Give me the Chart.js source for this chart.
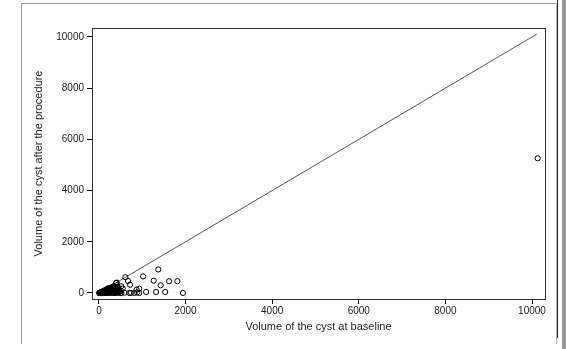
<!DOCTYPE html>
<html>
<head>
<meta charset="utf-8">
<script src="https://cdn.jsdelivr.net/npm/chart.js@4"></script>
<style>
  html, body { margin: 0; padding: 0; background: #fff; }
  #wrap { position: relative; width: 566px; height: 349px; overflow: hidden; }
  #frame { position: absolute; left: 21px; top: 3px; width: 534px; height: 340px;
           border-left: 1px solid #999; border-top: 1px solid #999; border-right: 1px solid #bbb; }
  #rdark { position: absolute; left: 557px; top: 0; width: 1px; height: 338px; background: #222; }
  #rbar { position: absolute; left: 562px; top: 0; width: 4px; height: 349px; background: #999; }
  canvas { position: absolute; left: 0; top: 0; }
</style>
</head>
<body>
<div id="wrap">
  <div id="frame"></div>
  <div id="rdark"></div>
  <div id="rbar"></div>
  <canvas id="grafico" width="566" height="349"></canvas>
</div>
<script>
// baseline volume vs volume after the procedure
const volBase = [5, 12, 18, 25, 30, 38, 45, 50, 55, 62, 70, 75, 80, 88, 95, 100, 105, 112, 118, 125,
  130, 138, 145, 150, 158, 165, 170, 178, 185, 190, 198, 205, 210, 218, 225, 232, 240, 248, 255, 262,
  270, 278, 285, 292, 300, 308, 315, 322, 330, 338, 345, 352, 360, 368, 375, 382, 390, 398, 405, 412,
  420, 428, 435, 442, 450, 458, 465, 480, 495, 510,
  20, 60, 90, 140, 200, 260, 320, 380, 440, 170, 230, 350,
  411, 397, 513, 550, 610, 670, 720, 520, 590, 700, 740, 820, 880, 930, 870, 930,
  1020, 1370, 1265, 1620, 1810, 1425, 1090, 1320, 1530, 1940, 10130];
const volDespues = [0, 3, 8, 2, 15, 0, 10, 25, 5, 30, 0, 18, 40, 8, 55, 0, 22, 60, 10, 35,
  80, 0, 45, 95, 15, 60, 110, 5, 30, 130, 70, 0, 150, 40, 90, 170, 10, 60, 120, 200,
  25, 80, 0, 150, 230, 45, 100, 15, 180, 260, 60, 0, 130, 30, 210, 90, 0, 160, 40, 300,
  110, 10, 240, 70, 180, 20, 130, 60, 0, 90,
  12, 40, 70, 110, 180, 140, 200, 250, 80, 50, 20, 120,
  406, 390, 262, 172, 615, 470, 320, 0, 10, 0, 5, 0, 20, 0, 130, 170,
  650, 920, 480, 460, 460, 300, 40, 40, 40, 0, 5260];
const linea = [0, 10110];
const xTicks = [0, 2000, 4000, 6000, 8000, 10000];
const yTicks = [0, 2000, 4000, 6000, 8000, 10000];

const puntos = volBase.map((v, i) => ({ x: v, y: volDespues[i] }));

const cajaPlugin = {
  id: 'caja',
  afterDatasetsDraw(chart) {
    const a = chart.chartArea, c = chart.ctx;
    c.save();
    c.strokeStyle = '#333';
    c.lineWidth = 1;
    c.strokeRect(a.left + 0.5, a.top + 0.5, a.right - a.left, a.bottom - a.top);
    c.restore();
  }
};

Chart.defaults.font.family = '"Liberation Sans", Arial, sans-serif';
Chart.defaults.font.size = 10;
Chart.defaults.color = '#222';

new Chart(document.getElementById('grafico').getContext('2d'), {
  type: 'scatter',
  data: {
    datasets: [{
      data: puntos,
      pointStyle: 'circle',
      pointRadius: 2.6,
      borderWidth: 1,
      borderColor: '#000',
      backgroundColor: 'rgba(0,0,0,0)'
    }, {
      type: 'line',
      data: linea.map(v => ({ x: v, y: v })),
      borderColor: '#555',
      borderWidth: 1,
      pointRadius: 0,
      fill: false
    }]
  },
  options: {
    responsive: false,
    animation: false,
    layout: { padding: { left: 28, top: 28, right: 21, bottom: 11 } },
    plugins: { legend: { display: false }, tooltip: { enabled: false } },
    scales: {
      x: {
        type: 'linear', min: -160, max: 10300,
        afterBuildTicks: s => { s.ticks = xTicks.map(v => ({ value: v })); },
        afterFit: s => { s.height = 39; },
        grid: { drawOnChartArea: false, tickLength: 5, color: '#000' },
        border: { color: '#000' },
        ticks: { padding: 1, maxRotation: 0, callback: v => v },
        title: { display: true, text: 'Volume of the cyst at baseline', font: { size: 11 } }
      },
      y: {
        type: 'linear', min: -235, max: 10350,
        afterBuildTicks: s => { s.ticks = yTicks.map(v => ({ value: v })); },
        afterFit: s => { s.width = 64; },
        grid: { drawOnChartArea: false, tickLength: 5, color: '#000' },
        border: { color: '#000' },
        ticks: { padding: 3, callback: v => v },
        title: { display: true, text: 'Volume of the cyst after the procedure', font: { size: 11 } }
      }
    }
  },
  plugins: [cajaPlugin]
});
</script>
</body>
</html>
